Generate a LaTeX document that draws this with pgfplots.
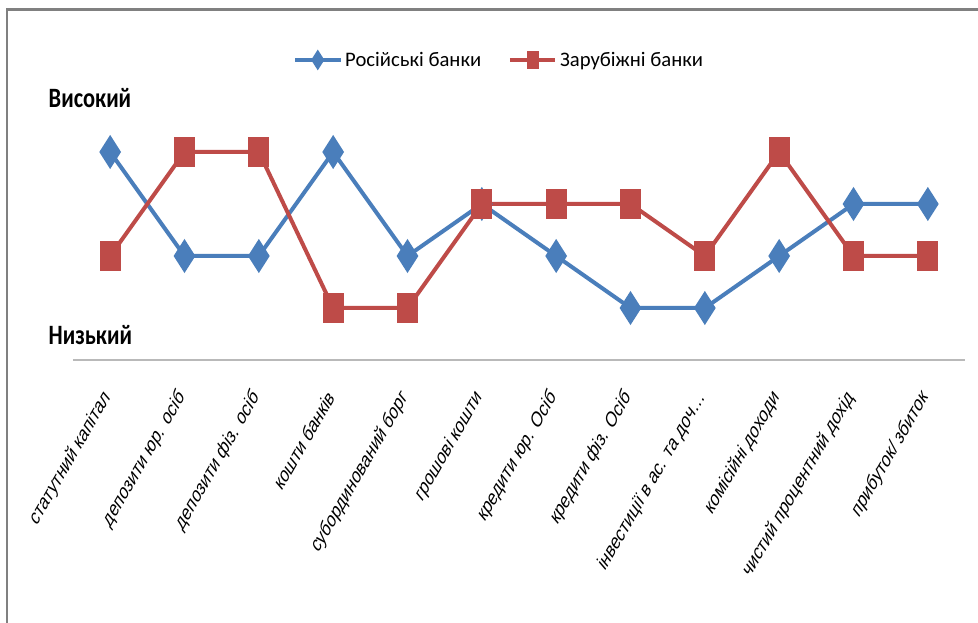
\documentclass[border=0pt]{standalone}
\usepackage{fontspec}
\setmainfont{Carlito}
\newfontfamily\condfont[FakeStretch=0.8]{Carlito}
\newfontfamily\labfont[FakeSlant=0.35]{Liberation Sans}
\usepackage{pgfplots}
\pgfplotsset{compat=1.18}
\definecolor{rusblue}{HTML}{4A7EBB}
\definecolor{forred}{HTML}{BE4B48}

\begin{document}
\begin{tikzpicture}
\begin{axis}[
    scale only axis,
    width=669pt, height=195pt,
    xmin=-0.5, xmax=11.5, ymin=0, ymax=5,
    axis x line=bottom, axis y line=none,
    x axis line style={-, draw=gray!55, line width=1.5pt},
    xtick={0,...,11},
    xticklabels={статутний капітал, депозити юр. осіб, депозити фіз. осіб, кошти банків, субординований борг, грошові кошти, кредити юр. Осіб, кредити фіз. Осіб, інвестиції в ас. та доч…, комісійні доходи, чистий процентний дохід, прибуток/ збиток},
    major tick length=0pt,
    ytick=\empty,
    xticklabel style={font=\labfont\fontsize{13.5}{15}\selectfont, rotate=60, anchor=east, xshift=-21pt, yshift=-11pt},
    legend style={at={(0.478,1.154)}, anchor=center, draw=none, fill=none,
        legend columns=2, font=\fontsize{15.5}{18}\selectfont,
        /tikz/every even column/.append style={column sep=18pt}},
    legend image code/.code={
        \draw[mark size=5pt, mark repeat=2, mark phase=2]
            plot coordinates {(0cm,0cm) (0.6cm,0cm) (1.2cm,0cm)};},
    clip=false,
]
% Російські банки
\addplot[rusblue, line width=3pt, mark=diamond*, mark size=10pt,
    mark options={xscale=0.85, solid}] coordinates {
    (0,4) (1,2) (2,2) (3,4) (4,2) (5,3) (6,2) (7,1) (8,1) (9,2) (10,3) (11,3)
};
\addlegendentry{Російські банки}
% Зарубіжні банки
\addplot[forred, line width=3pt, mark=square*, mark size=10pt,
    mark options={xscale=0.63, solid}] coordinates {
    (0,2) (1,4) (2,4) (3,1) (4,1) (5,3) (6,3) (7,3) (8,2) (9,4) (10,2) (11,2)
};
\addlegendentry{Зарубіжні банки}
\end{axis}
\node[anchor=west, font=\condfont\bfseries\fontsize{21}{24}\selectfont]
    at ([shift={(-21.75pt,196.5pt)}]current axis.south west) {Високий};
\node[anchor=west, font=\condfont\bfseries\fontsize{21}{24}\selectfont]
    at ([shift={(-21.75pt,18.75pt)}]current axis.south west) {Низький};
\draw[gray, line width=2pt]
    ([shift={(-49.5pt,-200pt)}]current axis.south west)
    -- ([shift={(-49.5pt,263pt)}]current axis.south west)
    -- ([shift={(690pt,263pt)}]current axis.south west);
\pgfresetboundingbox
\path[use as bounding box]
    ([shift={(-54.75pt,-197.25pt)}]current axis.south west)
    rectangle ([shift={(678.75pt,270pt)}]current axis.south west);
\end{tikzpicture}
\end{document}
